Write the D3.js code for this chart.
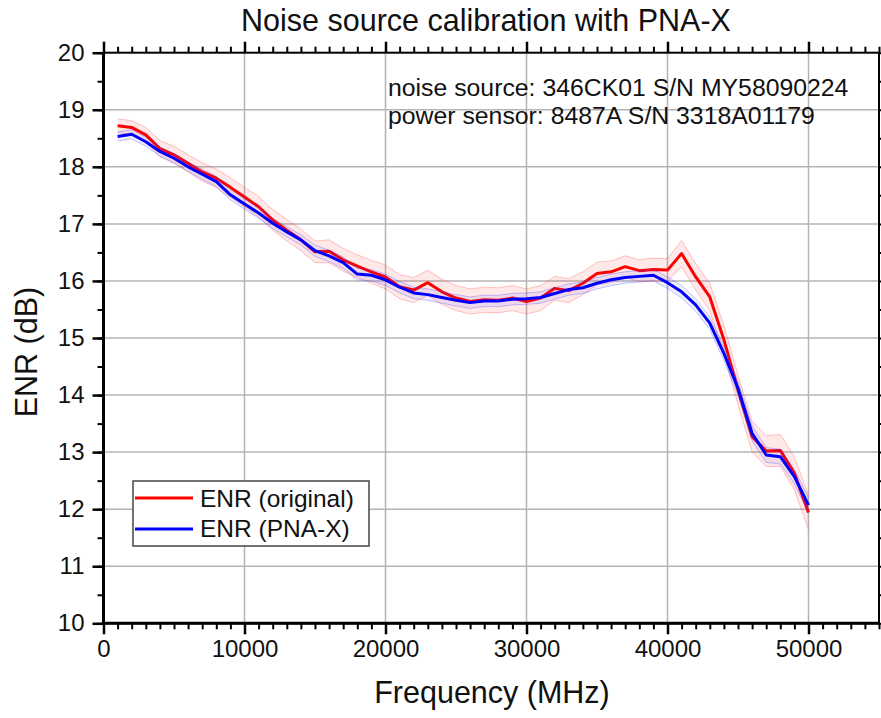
<!DOCTYPE html>
<html>
<head>
<meta charset="utf-8">
<script src="https://cdn.jsdelivr.net/npm/d3@7"></script>
<style>
  body { margin: 0; background: #fff; }
  svg { font-family: Arial, "Liberation Sans", sans-serif; }
</style>
</head>
<body>
<svg class="chart"></svg>
<script>
// frequency points (MHz)
const freq = [1000, 2000, 3000, 4000, 5000, 6000, 7000, 8000, 9000, 10000,
  11000, 12000, 13000, 14000, 15000, 16000, 17000, 18000, 19000, 20000,
  21000, 22000, 23000, 24000, 25000, 26000, 27000, 28000, 29000, 30000,
  31000, 32000, 33000, 34000, 35000, 36000, 37000, 38000, 39000, 40000,
  41000, 42000, 43000, 44000, 45000, 46000, 47000, 48000, 49000, 50000];

// ENR (original), dB
const enrOrig = [18.72, 18.69, 18.56, 18.32, 18.21, 18.06, 17.91, 17.80, 17.64, 17.47,
  17.30, 17.07, 16.89, 16.72, 16.51, 16.52, 16.37, 16.26, 16.16, 16.07,
  15.90, 15.84, 15.97, 15.81, 15.70, 15.64, 15.67, 15.66, 15.70, 15.64,
  15.70, 15.87, 15.83, 15.96, 16.13, 16.16, 16.25, 16.18, 16.20, 16.19,
  16.48, 16.07, 15.72, 14.97, 14.09, 13.27, 13.02, 13.03, 12.63, 11.94];
const uncOrig = [0.12, 0.12, 0.13, 0.14, 0.15, 0.15, 0.16, 0.16, 0.17, 0.17,
  0.18, 0.18, 0.19, 0.19, 0.19, 0.20, 0.20, 0.20, 0.20, 0.21,
  0.21, 0.22, 0.22, 0.22, 0.22, 0.22, 0.22, 0.22, 0.22, 0.22,
  0.22, 0.21, 0.21, 0.20, 0.20, 0.19, 0.19, 0.19, 0.20, 0.20,
  0.23, 0.23, 0.24, 0.25, 0.26, 0.27, 0.27, 0.28, 0.29, 0.30];

// ENR (PNA-X), dB
const enrPna = [18.53, 18.57, 18.44, 18.27, 18.15, 18.00, 17.87, 17.74, 17.51, 17.35,
  17.19, 17.01, 16.86, 16.72, 16.53, 16.44, 16.32, 16.12, 16.10, 16.02,
  15.89, 15.79, 15.76, 15.71, 15.66, 15.62, 15.65, 15.65, 15.68, 15.69,
  15.71, 15.78, 15.85, 15.88, 15.96, 16.02, 16.06, 16.08, 16.10, 15.97,
  15.81, 15.58, 15.26, 14.73, 14.12, 13.33, 12.95, 12.92, 12.57, 12.07];
const uncPna = [0.08, 0.08, 0.08, 0.08, 0.08, 0.08, 0.09, 0.09, 0.09, 0.09,
  0.09, 0.09, 0.09, 0.09, 0.10, 0.10, 0.10, 0.10, 0.10, 0.10,
  0.10, 0.10, 0.10, 0.10, 0.10, 0.10, 0.10, 0.10, 0.10, 0.10,
  0.10, 0.10, 0.10, 0.10, 0.10, 0.10, 0.10, 0.10, 0.10, 0.10,
  0.11, 0.11, 0.11, 0.12, 0.12, 0.13, 0.13, 0.13, 0.13, 0.13];

const xTicks = [0, 10000, 20000, 30000, 40000, 50000];
const yTicks = [10, 11, 12, 13, 14, 15, 16, 17, 18, 19, 20];
const infoLines = ['noise source: 346CK01 S/N MY58090224', 'power sensor: 8487A S/N 3318A01179'];

const config = {
  width: 881, height: 718,
  left: 103.5, right: 879, top: 52.7, bottom: 623.3
};

let svg = d3.select('.chart')
  .attr('width', config.width)
  .attr('height', config.height);

let x = d3.scaleLinear().domain([0, 55000]).range([config.left, config.right]);
let y = d3.scaleLinear().domain([10, 20]).range([config.bottom, config.top]);

// grid
svg.append('g').selectAll('line')
  .data(xTicks.filter(d => d > 0))
  .enter().append('line')
  .attr('x1', d => x(d)).attr('x2', d => x(d))
  .attr('y1', config.top).attr('y2', config.bottom)
  .style('stroke', '#b4b4b4').style('stroke-width', 1.5);
svg.append('g').selectAll('line')
  .data(yTicks.filter(d => d > 10 && d < 20))
  .enter().append('line')
  .attr('x1', config.left).attr('x2', config.right)
  .attr('y1', d => y(d)).attr('y2', d => y(d))
  .style('stroke', '#b4b4b4').style('stroke-width', 1.5);

// info text
svg.append('g').selectAll('text')
  .data(infoLines)
  .enter().append('text')
  .attr('x', 388)
  .attr('y', (d, i) => 96 + i * 27.5)
  .style('font-size', '24.8px')
  .style('fill', '#111')
  .text(d => d);

function series(vals, unc, col, bandCol, bandOpacity) {
  let pts = freq.map((f, i) => ({ f: f, v: vals[i], u: unc[i] }));
  let g = svg.append('g');
  g.append('path')
    .datum(pts)
    .attr('d', d3.area().x(d => x(d.f)).y0(d => y(d.v - d.u)).y1(d => y(d.v + d.u)))
    .style('fill', bandCol).style('opacity', bandOpacity);
  [-1, 1].forEach(s => {
    g.append('path')
      .datum(pts)
      .attr('d', d3.line().x(d => x(d.f)).y(d => y(d.v + s * d.u)))
      .style('fill', 'none').style('stroke', bandCol)
      .style('stroke-width', 1).style('opacity', 0.3);
  });
  g.append('path')
    .datum(pts)
    .attr('d', d3.line().x(d => x(d.f)).y(d => y(d.v)))
    .style('fill', 'none').style('stroke', col)
    .style('stroke-width', 3).style('stroke-linejoin', 'round');
}
series(enrOrig, uncOrig, '#ff0000', '#ff4040', 0.12);
series(enrPna, uncPna, '#0000ff', '#4040ff', 0.09);

// axes
function styleAxis(g, w) {
  g.select('.domain').remove();
  g.selectAll('.tick line').style('stroke', '#000').style('stroke-width', w);
  g.selectAll('.tick text').style('font-size', '24px').style('fill', '#111')
    .style('font-family', 'Arial, "Liberation Sans", sans-serif');
}
const xMinor = d3.range(0, 55001, 1000);
const yMinor = d3.range(10, 20.01, 0.5);

svg.append('g').attr('transform', 'translate(0,' + config.bottom + ')')
  .call(d3.axisBottom(x).tickValues(xMinor).tickSize(6).tickFormat(''))
  .call(g => styleAxis(g, 2));
svg.append('g').attr('transform', 'translate(0,' + config.bottom + ')')
  .call(d3.axisBottom(x).tickValues(xTicks).tickSize(11).tickPadding(6).tickFormat(d3.format('d')))
  .call(g => styleAxis(g, 2.5));
svg.append('g').attr('transform', 'translate(0,' + config.top + ')')
  .call(d3.axisTop(x).tickValues(xMinor).tickSize(6).tickFormat(''))
  .call(g => styleAxis(g, 2));
svg.append('g').attr('transform', 'translate(0,' + config.top + ')')
  .call(d3.axisTop(x).tickValues(xTicks).tickSize(11).tickFormat(''))
  .call(g => styleAxis(g, 2.5));
svg.append('g').attr('transform', 'translate(' + config.left + ',0)')
  .call(d3.axisLeft(y).tickValues(yMinor).tickSize(6).tickFormat(''))
  .call(g => styleAxis(g, 2));
svg.append('g').attr('transform', 'translate(' + config.left + ',0)')
  .call(d3.axisLeft(y).tickValues(yTicks).tickSize(11).tickPadding(8).tickFormat(d3.format('d')))
  .call(g => styleAxis(g, 2.5));
svg.append('g').attr('transform', 'translate(' + config.right + ',0)')
  .call(d3.axisRight(y).tickValues(yMinor).tickSize(6).tickFormat(''))
  .call(g => styleAxis(g, 2));

// frame
svg.append('rect')
  .attr('x', config.left).attr('y', config.top)
  .attr('width', config.right - config.left).attr('height', config.bottom - config.top)
  .style('fill', 'none').style('stroke', '#000').style('stroke-width', 2);
svg.append('line')
  .attr('x1', config.left).attr('x2', config.right)
  .attr('y1', config.bottom).attr('y2', config.bottom)
  .style('stroke', '#000').style('stroke-width', 3);
svg.append('line')
  .attr('x1', config.left).attr('x2', config.left)
  .attr('y1', config.top).attr('y2', config.bottom)
  .style('stroke', '#000').style('stroke-width', 3);

// titles
svg.append('text')
  .attr('x', 486).attr('y', 31)
  .attr('text-anchor', 'middle')
  .style('font-size', '30.5px').style('fill', '#111')
  .text('Noise source calibration with PNA-X');
svg.append('text')
  .attr('x', 492).attr('y', 703)
  .attr('text-anchor', 'middle')
  .style('font-size', '30.5px').style('fill', '#111')
  .text('Frequency (MHz)');
svg.append('text')
  .attr('transform', 'translate(37,352) rotate(-90)')
  .attr('text-anchor', 'middle')
  .style('font-size', '30.5px').style('fill', '#111')
  .text('ENR (dB)');

// legend
let legendItems = [
  { name: 'ENR (original)', color: '#ff0000' },
  { name: 'ENR (PNA-X)', color: '#0000ff' }
];
let legend = svg.append('g').attr('class', 'legend');
legend.append('rect')
  .attr('x', 133).attr('y', 481).attr('width', 236).attr('height', 65)
  .style('fill', '#fff').style('stroke', '#444').style('stroke-width', 1.5);
legend.selectAll('line.key')
  .data(legendItems)
  .enter().append('line')
  .attr('x1', 135).attr('x2', 193)
  .attr('y1', (d, i) => 498 + i * 31).attr('y2', (d, i) => 498 + i * 31)
  .style('stroke', d => d.color).style('stroke-width', 3);
legend.selectAll('text')
  .data(legendItems)
  .enter().append('text')
  .attr('x', 200)
  .attr('y', (d, i) => 506.5 + i * 30.5)
  .style('font-size', '24.5px').style('fill', '#111')
  .text(d => d.name);
</script>
</body>
</html>
